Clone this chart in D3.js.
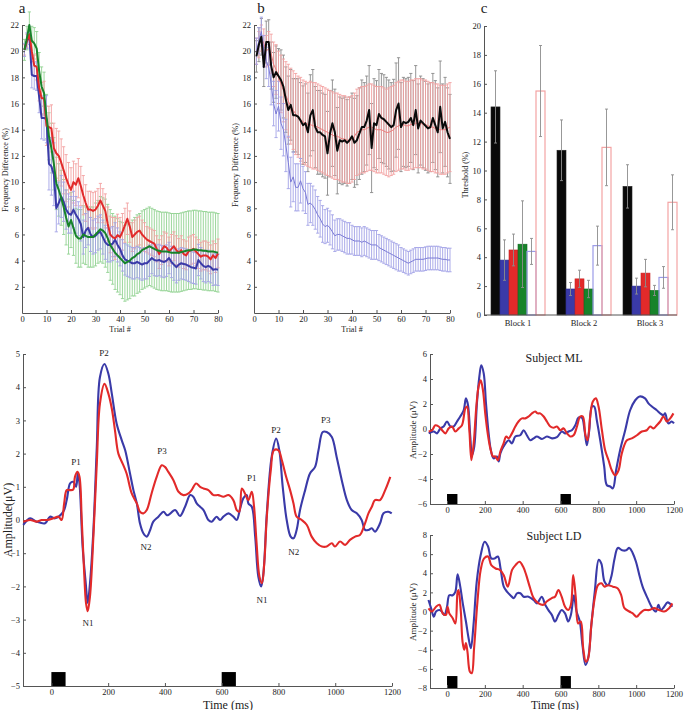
<!DOCTYPE html>
<html>
<head>
<meta charset="utf-8">
<script src="https://cdn.jsdelivr.net/npm/d3@7"></script>
<style>
    * { margin: 0; padding: 0; }
    body { background: #fff; }
    #fig text { font-family: "Liberation Serif", "DejaVu Serif", serif; fill: #222; }
    .axis path, .axis line { stroke: #555; }
    .axis text { font-size: 8.5px; font-family: "Liberation Serif", serif; }
</style>
</head>
<body>
<svg id="fig" width="685" height="710"></svg>
<script>
// ---- panel a : frequency difference per trial ----
var trials = d3.range(1, 81);
var redA = [20.1,20.8,21.3,20.0,18.9,18.8,17.2,16.4,16.4,14.3,
    14.2,14.1,12.6,12.2,12.0,11.5,10.9,10.3,9.8,9.4,
    10.0,9.8,10.3,9.7,9.0,8.4,7.9,7.9,7.8,7.9,
    8.2,8.6,8.2,7.8,6.8,6.0,5.8,5.7,5.95,5.8,
    6.2,6.7,7.2,6.6,5.8,6.0,6.2,6.3,6.0,5.8,
    5.6,5.5,5.4,5.3,4.9,4.5,4.8,5.1,5.0,4.7,
    4.9,5.1,4.8,4.6,4.8,4.5,4.4,4.7,4.8,4.9,
    4.7,4.5,4.3,4.4,4.4,4.3,4.1,4.4,4.2,4.55];
var blueA = [20.1,20.8,21.2,18.2,18.1,18.1,16.5,14.9,14.9,14.8,
    11.4,11.2,10.6,8.0,8.4,8.9,8.5,7.9,7.6,7.5,
    7.9,7.5,7.2,6.8,5.8,6.3,6.5,6.0,5.8,5.9,
    6.1,6.2,5.8,5.4,5.2,5.2,5.3,5.6,5.2,4.9,
    4.4,4.1,4.0,3.9,3.8,3.8,3.9,3.8,3.7,3.8,
    3.8,4.0,4.2,4.05,4.0,4.05,3.95,3.9,4.0,4.2,
    3.9,3.7,3.5,3.7,3.8,3.75,3.7,3.6,3.5,3.45,
    3.4,4.05,3.8,3.6,3.5,3.6,3.5,3.3,3.35,3.3];
var greenA = [20.1,21.0,22.0,20.8,20.6,20.2,18.5,17.3,16.8,15.0,
    13.5,12.6,11.4,9.9,9.4,8.8,8.1,7.3,6.6,7.1,
    6.5,5.9,5.7,5.7,6.0,5.9,5.8,5.8,5.8,6.0,
    6.2,6.4,6.3,6.1,5.7,5.2,4.9,4.6,4.4,4.2,
    4.0,3.8,3.9,4.0,4.2,4.3,4.5,4.6,4.8,4.9,
    5.0,5.1,5.0,4.9,4.8,4.75,4.7,4.7,4.7,4.65,
    4.6,4.6,4.6,4.6,4.65,4.7,4.75,4.8,4.8,4.85,
    4.85,4.8,4.8,4.75,4.75,4.7,4.7,4.7,4.65,4.6];
var errRedA = [0.4,0.5,0.5,0.8,0.8,1.0,1.0,1.2,1.3,1.5,
    1.6,1.8,1.9,1.9,1.9,1.8,1.8,1.8,1.7,1.7,
    1.6,1.6,1.5,1.5,1.5,1.4,1.4,1.4,1.4,1.4,
    1.3,1.3,1.3,1.3,1.3,1.4,1.5,1.6,1.6,1.5,
    1.4,1.3,1.2,1.2,1.1,1.1,1.1,1.1,1.1,1.1,
    1.0,1.0,1.0,1.0,1.0,1.1,1.1,1.1,1.1,1.1,
    1.1,1.1,1.1,1.1,1.1,1.1,1.1,1.1,1.1,1.1,
    1.1,1.1,1.1,1.1,1.1,1.1,1.1,1.1,1.1,1.1];
var errBlueA = [0.5,0.6,0.7,1.0,1.0,1.1,1.2,1.6,1.7,1.8,
    2.0,2.2,2.4,1.8,1.6,1.6,1.5,1.5,1.5,1.4,
    1.4,1.4,1.3,1.3,1.3,1.3,1.3,1.3,1.3,1.3,
    1.3,1.3,1.3,1.3,1.3,1.3,1.3,1.3,1.3,1.3,
    1.2,1.2,1.2,1.2,1.2,1.2,1.2,1.2,1.2,1.2,
    1.2,1.2,1.2,1.2,1.2,1.2,1.2,1.2,1.2,1.2,
    1.2,1.2,1.2,1.2,1.2,1.2,1.2,1.2,1.2,1.2,
    1.2,1.2,1.2,1.2,1.2,1.2,1.2,1.2,1.2,1.2];
var errGreenA = [0.8,0.9,1.0,1.1,1.2,1.3,1.4,1.5,1.6,1.7,
    1.8,1.9,2.0,2.0,2.0,2.1,2.1,2.1,2.1,2.1,
    2.1,2.1,2.2,2.2,2.2,2.2,2.3,2.3,2.3,2.4,
    2.4,2.5,2.5,2.6,2.6,2.7,2.7,2.8,2.8,2.8,
    2.9,2.9,2.9,2.9,2.9,3.0,3.0,3.0,3.0,3.0,
    3.0,3.0,3.0,3.0,3.0,3.0,3.0,3.0,3.0,3.0,
    3.0,3.0,3.0,3.0,3.0,3.0,3.0,3.0,3.0,3.0,
    3.0,3.0,3.0,3.0,3.0,3.0,3.0,3.0,3.0,3.0];

// ---- panel b ----
var blackB = [19.6,20.5,21.1,18.8,20.7,20.7,18.9,18.0,18.4,18.1,
    17.8,17.3,16.3,15.5,15.9,15.1,15.1,15.0,14.7,14.35,
    14.5,13.8,15.1,15.5,14.2,13.8,13.8,13.6,13.5,12.2,
    13.7,14.5,13.8,12.4,13.2,13.1,13.2,13.0,13.2,13.5,
    13.0,13.2,13.7,14.2,14.2,14.7,15.5,12.6,14.5,14.35,
    15.2,14.9,14.8,14.6,14.4,14.2,14.35,15.5,16.0,14.2,
    14.6,14.5,14.6,14.9,14.35,15.5,14.1,14.7,14.5,14.3,
    14.1,14.2,14.9,14.35,13.8,15.75,14.1,14.6,13.8,13.3];
var redB = [20.0,20.5,21.0,20.6,20.0,20.2,19.8,19.0,18.6,18.0,
    17.5,17.0,16.6,16.2,15.8,15.5,15.2,15.0,14.8,14.6,
    14.5,14.4,14.4,14.3,14.3,14.2,14.1,14.0,13.9,13.8,
    13.7,13.6,13.5,13.5,13.4,13.3,13.3,13.2,13.2,13.3,
    13.5,13.8,13.9,14.0,14.0,14.1,14.2,14.2,14.1,14.0,
    14.0,14.0,13.9,13.8,13.8,13.9,14.0,14.2,14.3,14.4,
    14.4,14.3,14.3,14.4,14.4,14.5,14.5,14.5,14.4,14.4,
    14.3,14.2,14.2,14.1,14.1,14.0,14.0,14.0,14.1,14.2];
var blueB = [20.0,20.8,21.5,20.0,19.2,18.8,17.5,16.0,15.2,15.8,
    14.5,14.0,12.8,11.5,10.0,10.4,9.6,9.6,10.1,9.5,
    9.2,8.3,8.4,8.2,7.9,7.5,7.2,6.8,6.6,6.7,
    6.5,6.2,5.9,6.0,6.0,5.9,5.8,5.7,5.7,5.6,
    5.5,5.5,5.5,5.4,5.5,5.4,5.3,5.2,5.2,5.2,
    5.0,4.9,4.8,4.7,4.6,4.5,4.4,4.3,4.2,4.1,
    4.0,3.9,3.8,3.9,4.0,4.1,4.1,4.1,4.1,4.15,
    4.2,4.2,4.2,4.2,4.2,4.15,4.1,4.1,4.05,4.05];
var errBlackB = [1.2,1.3,1.4,1.5,1.6,1.7,1.8,1.9,2.0,2.1,
    2.3,2.4,2.5,2.6,2.7,2.8,2.8,2.9,2.9,3.0,
    3.0,3.0,3.1,3.1,3.1,3.2,3.2,3.2,3.2,3.2,
    3.3,3.3,3.3,3.3,3.3,3.3,3.3,3.3,3.3,3.3,
    3.4,3.4,3.5,3.6,3.4,3.4,3.4,3.4,3.4,3.4,
    3.4,3.4,3.4,3.4,3.4,3.4,3.5,3.6,3.5,3.4,
    3.4,3.4,3.4,3.4,3.4,3.4,3.4,3.4,3.4,3.4,
    3.4,3.4,3.4,3.4,3.4,3.5,3.4,3.4,3.4,3.4];
var errRedB = [1.0,1.0,1.0,1.1,1.2,1.3,1.5,1.7,1.9,2.0,
    2.2,2.4,2.6,2.8,2.9,3.0,3.1,3.1,3.2,3.2,
    3.2,3.2,3.3,3.3,3.3,3.3,3.3,3.3,3.3,3.3,
    3.3,3.3,3.3,3.3,3.3,3.3,3.3,3.3,3.3,3.3,
    3.3,3.3,3.3,3.3,3.3,3.3,3.3,3.3,3.3,3.3,
    3.3,3.3,3.3,3.3,3.4,3.4,3.4,3.4,3.4,3.4,
    3.4,3.4,3.4,3.4,3.4,3.4,3.4,3.4,3.4,3.4,
    3.4,3.4,3.4,3.4,3.4,3.4,3.4,3.4,3.4,3.4];
var errBlueB = [1.0,1.0,1.1,1.2,1.3,1.5,1.6,1.7,1.8,1.9,
    2.0,2.0,2.0,2.0,1.9,1.9,1.8,1.8,1.7,1.7,
    1.6,1.6,1.5,1.5,1.5,1.4,1.4,1.4,1.3,1.3,
    1.3,1.3,1.2,1.2,1.2,1.2,1.2,1.2,1.2,1.1,
    1.1,1.1,1.1,1.1,1.1,1.1,1.1,1.1,1.1,1.1,
    1.0,1.0,1.0,1.0,1.0,1.0,1.0,1.0,1.0,0.9,
    0.9,0.9,0.9,0.9,0.9,0.9,0.9,0.9,0.9,0.9,
    0.9,0.9,0.9,0.9,0.9,0.9,0.9,0.9,0.9,0.9];

// ---- panel c : thresholds per block ----
var blocks = ["Block 1", "Block 2", "Block 3"];
var barNames = ["black", "blue", "red", "green", "blueOpen", "redOpen"];
var thrBlack = [14.4, 11.4, 8.9];
var thrBlue = [3.8, 1.8, 2.0];
var thrRed = [4.5, 2.5, 2.9];
var thrGreen = [4.9, 1.8, 1.7];
var thrBlueOpen = [4.4, 4.8, 2.6];
var thrRedOpen = [15.5, 11.6, 7.8];
var semBlack = [2.5, 2.1, 1.5];
var semBlue = [1.4, 0.45, 0.55];
var semRed = [1.1, 0.6, 0.95];
var semGreen = [3.0, 0.6, 0.35];
var semBlueOpen = [0.9, 1.35, 0.75];
var semRedOpen = [3.15, 2.65, 1.9];

// ---- grand average ERP (ms, uV) ----
var erpBlue = [[-99,-0.15],[-75,0.05],[-52,-0.05],[-22,-0.1],[-5,0.1],[13,0.05],[42,0.25],[54,0.6],[66,1.1],[77,1.15],
    [87,1.0],[93,1.4],[99,1.1],[110,-0.8],[121,-1.9],[128,-2.5],[136,-1.9],[148,-0.3],[160,2.2],[171,4.3],
    [187,4.7],[201,4.4],[213,3.8],[230,2.9],[248,2.4],[260,2.1],[277,1.4],[289,0.9],[301,0.5],[312,-0.1],
    [324,-0.4],[336,-0.5],[348,-0.3],[359,-0.05],[377,0.1],[395,0.25],[406,0.15],[412,0.15],[436,0.3],[453,0.12],
    [471,0.4],[489,0.75],[500,0.7],[512,0.5],[524,0.4],[536,0.3],[553,0],[565,-0.05],[582,0.1],[594,0],
    [606,0.1],[624,0.2],[641,0.1],[653,0],[665,0.35],[676,0.65],[688,0.75],[694,0.5],[706,0.4],[718,-0.5],
    [729,-1.7],[739,-2.0],[747,-1.6],[759,0.2],[776,1.9],[792,2.45],[803,2.1],[815,1.0],[829,0],[843,-0.5],
    [853,-0.55],[864,-0.3],[876,0.3],[894,0.9],[911,1.4],[929,1.6],[941,2.1],[956,2.65],[970,2.65],[988,2.5],
    [1005,1.9],[1023,1.2],[1041,0.6],[1058,0.3],[1076,0.2],[1093,0],[1105,-0.3],[1117,-0.3],[1129,-0.25],[1140,-0.35],
    [1158,-0.1],[1170,0.2],[1187,0.25],[1199,0.2]];
var erpRed = [[-99,-0.05],[-75,0],[-52,-0.05],[-34,0],[-16,0],[7,0.05],[25,0.1],[36,0],[45,0.5],[54,0.9],
    [66,0.9],[77,0.92],[83,1.3],[92,1.45],[99,1.3],[107,0],[115,-1.5],[122,-2.5],[128,-2.75],[136,-2.3],
    [148,-0.5],[160,1.7],[171,3.5],[187,4.1],[201,3.8],[213,3.35],[224,2.7],[236,2.0],[251,1.7],[265,1.4],
    [283,0.8],[301,0.5],[312,0.25],[324,0.2],[336,0.3],[353,0.8],[371,1.3],[389,1.65],[400,1.6],[412,1.45],
    [430,1.2],[448,0.85],[465,0.75],[483,0.8],[494,0.9],[510,1.1],[524,1.0],[536,0.95],[553,0.9],[571,0.75],
    [588,0.75],[606,0.7],[624,0.75],[641,0.6],[653,0.3],[662,0.25],[671,0.95],[682,0.8],[694,0.6],[706,0.85],
    [714,0.4],[723,-0.7],[733,-1.7],[742,-1.9],[750,-1.3],[759,0.1],[773,1.5],[784,2.1],[800,2.1],[812,1.8],
    [827,1.3],[841,0.9],[853,0.5],[864,0.1],[882,0],[900,-0.15],[917,-0.5],[935,-0.7],[953,-0.8],[970,-0.8],
    [988,-0.7],[999,-0.8],[1017,-0.65],[1035,-0.75],[1052,-0.6],[1070,-0.5],[1087,-0.45],[1105,-0.1],[1117,0.2],[1129,0.4],
    [1140,0.6],[1158,0.6],[1176,0.9],[1194,1.3]];
var peakLabels = [["P1",87,1.75],["P2",185,5.06],["P3",390,2.08],["N1",129,-3.1],["N2",333,-0.81],
    ["P1",706,1.27],["P2",791,2.74],["P3",967,3.04],["N1",742,-2.38],["N2",854,-0.96]];
var stimuli = [[0, 50], [600, 650]];

// ---- subject ML ----
var mlBlue = [[-97,-0.35],[-70,-0.2],[-53,-0.35],[-35,0.05],[-18,0.2],[0,0.6],[18,0.2],[35,0.2],[53,0.6],[70,1.0],
    [88,1.5],[100,2.45],[111,1.9],[123,-0.6],[132,-2.1],[144,-1.4],[158,2.05],[171,4.2],[181,5.1],[194,4.45],
    [206,2.05],[220,-0.35],[232,-1.7],[246,-2.35],[264,-2.2],[273,-2.6],[282,-1.95],[299,-1.4],[326,-0.9],[343,-1.15],
    [361,-0.6],[387,-0.5],[405,-0.1],[422,-0.5],[440,-0.9],[458,-0.75],[475,-0.6],[502,-0.8],[528,-0.6],[555,-0.75],
    [581,-0.65],[607,-0.2],[625,-0.35],[643,-0.2],[660,-0.1],[678,0.3],[695,0.9],[713,0.9],[727,-0.1],[739,-1.3],
    [752,-0.1],[766,1.8],[778,1.8],[792,0.7],[810,-0.9],[831,-3.0],[845,-4.5],[863,-4.6],[877,-4.75],[894,-3.3],
    [915,-1.7],[942,-0.1],[968,1.5],[995,2.3],[1018,2.6],[1047,2.45],[1065,2.05],[1083,1.8],[1109,1.5],[1127,1.25],
    [1144,1.1],[1153,1.25],[1170,0.45],[1188,0.6],[1200,0.45]];
var mlRed = [[-97,-0.2],[-79,-0.1],[-62,0.3],[-44,0.2],[-26,-0.1],[-9,-0.35],[9,0.05],[26,0.2],[44,-0.2],[62,0.05],
    [79,0.3],[97,1.65],[106,1.8],[118,-0.1],[129,-2.5],[141,-1.15],[155,1.8],[167,3.4],[178,3.9],[190,3.1],
    [202,1.25],[215,-0.35],[229,-1.55],[243,-2.2],[255,-2.2],[269,-2.5],[282,-1.8],[299,-1.15],[313,-0.6],[326,-0.75],
    [343,-0.35],[361,0.2],[378,0.6],[396,0.85],[414,0.85],[431,1.0],[449,1.25],[466,1.4],[479,1.25],[493,1.25],
    [511,1.0],[528,0.6],[546,0.2],[563,0.1],[581,0.2],[599,-0.1],[616,0.05],[634,-0.35],[651,-0.6],[669,-0.5],
    [687,0.2],[704,1.0],[718,1.0],[732,-0.5],[743,-0.9],[757,1.0],[771,2.2],[787,2.45],[801,1.8],[819,-0.1],
    [836,-1.7],[854,-2.5],[871,-3.3],[889,-3.7],[907,-3.3],[924,-1.95],[951,-0.9],[977,-0.75],[1004,-0.5],[1030,-0.2],
    [1056,-0.1],[1074,0.2],[1092,0.05],[1109,0.3],[1127,0.6],[1144,1.0],[1162,0.6],[1180,0.85],[1197,1.25]];

// ---- subject LD ----
var ldBlue = [[-98,1.2],[-84,0.33],[-70,-0.55],[-58,0],[-40,0.15],[-28,0],[-14,-0.35],[0,0.5],[12,1.7],[30,1.7],
    [44,2.05],[56,3.9],[70,2.6],[82,1.0],[100,-1.05],[114,-2.8],[126,-3.85],[140,-1.4],[157,3.1],[178,5.9],
    [199,7.3],[217,6.8],[234,5.55],[252,5.55],[269,5.75],[283,4.5],[300,2.6],[318,2.05],[335,1.7],[353,1.4],
    [370,1.9],[388,1.9],[405,1.55],[431,1.55],[458,1.2],[475,0.85],[501,1.55],[519,0.7],[536,0.15],[554,-0.35],
    [571,-1.05],[589,-0.35],[606,0.15],[624,-0.2],[641,-1.05],[655,-0.35],[667,1.4],[671,1.7],[685,0],[702,-1.05],
    [716,-3.5],[732,-5.6],[746,-4.9],[763,-1.4],[781,2.05],[802,5.4],[816,5.0],[833,3.1],[851,2.75],[868,3.6],
    [886,5.55],[903,6.65],[926,6.4],[947,6.4],[964,6.65],[982,6.1],[999,5.2],[1017,3.8],[1034,2.6],[1060,1.4],
    [1086,0.35],[1104,0],[1118,0.7],[1130,0.15],[1148,0.5],[1165,0.95],[1177,0.85],[1191,0.5]];
var ldRed = [[-98,0.33],[-80,0],[-58,0.5],[-40,0.7],[-23,-0.2],[-5,-0.35],[3,0.5],[12,-0.2],[30,-0.7],[44,-1.25],
    [56,2.05],[61,2.25],[73,0],[82,-3.15],[91,-4.0],[100,-3.3],[108,-4.2],[121,-6.3],[131,-6.45],[143,-3.85],
    [161,1.05],[178,4.35],[196,5.55],[217,5.75],[234,4.85],[257,4.5],[279,4.35],[300,3.8],[321,2.6],[344,4.35],
    [362,4.85],[383,5.2],[402,4.7],[419,3.8],[437,2.6],[458,1.4],[484,0.85],[510,0.7],[527,1.05],[554,1.4],
    [571,1.55],[589,2.25],[606,1.55],[624,0.5],[641,0.15],[655,0.7],[667,3.8],[681,1.4],[693,-1.25],[707,-1.05],
    [720,-3.85],[734,-5.25],[746,-4.9],[763,-1.4],[781,1.4],[798,2.75],[816,2.95],[833,2.6],[851,2.75],[877,2.6],
    [903,2.4],[921,1.7],[938,0.35],[964,0],[982,-0.2],[1003,-0.55],[1020,-0.2],[1043,0.15],[1069,0.15],[1095,0.35],
    [1121,0.15],[1148,0],[1174,0.35],[1191,0.85]];

var col = {
    red: "#e22a2a", blue: "#3a3aa8", green: "#17832a", black: "#0a0a0a",
    redErr: "#f3a2a2", blueErr: "#a3a3e6", greenErr: "#92d292", blackErr: "#8a8a8a"
};

var svg = d3.select("#fig");

// axes with MATLAB style inward ticks, left and bottom only
function drawAxes(g, x, y, xTicks, yTicks) {
    g.append("g")
        .attr("class", "axis")
        .attr("transform", "translate(0," + y.range()[0] + ")")
        .call(d3.axisBottom(x).tickValues(xTicks).tickFormat(d3.format("d"))
            .tickSizeInner(-3).tickSizeOuter(0).tickPadding(3));
    g.append("g")
        .attr("class", "axis")
        .attr("transform", "translate(" + x.range()[0] + ",0)")
        .call(d3.axisLeft(y).tickValues(yTicks).tickFormat(d3.format("d"))
            .tickSizeInner(-3).tickSizeOuter(0).tickPadding(3));
}

function errorBars(g, x, y, xs, vals, errs, color) {
    var e = g.append("g").attr("stroke", color).attr("stroke-width", 0.9);
    xs.forEach(function (t, i) {
        var lo = y(vals[i] - errs[i]), hi = y(vals[i] + errs[i]), cx = x(t);
        e.append("line").attr("x1", cx).attr("x2", cx).attr("y1", lo).attr("y2", hi);
        e.append("line").attr("x1", cx - 1.6).attr("x2", cx + 1.6).attr("y1", lo).attr("y2", lo);
        e.append("line").attr("x1", cx - 1.6).attr("x2", cx + 1.6).attr("y1", hi).attr("y2", hi);
    });
}

function trialLine(g, x, y, vals, color, w) {
    g.append("path")
        .datum(vals)
        .attr("fill", "none")
        .attr("stroke", color)
        .attr("stroke-width", w)
        .attr("stroke-linejoin", "round")
        .attr("d", d3.line().x(function (d, i) { return x(trials[i]); }).y(function (d) { return y(d); }));
}

function erpLine(g, x, y, pts, color) {
    g.append("path")
        .datum(pts)
        .attr("fill", "none")
        .attr("stroke", color)
        .attr("stroke-width", 2.1)
        .attr("stroke-linejoin", "round")
        .attr("d", d3.line().curve(d3.curveCatmullRom.alpha(0.5))
            .x(function (d) { return x(d[0]); }).y(function (d) { return y(d[1]); }));
}

function yLabel(g, x, y, txt, size) {
    g.append("text")
        .attr("transform", "translate(" + x + "," + y + ") rotate(-90)")
        .attr("text-anchor", "middle")
        .style("font-size", size + "px")
        .text(txt);
}

function plainText(g, x, y, txt, size, anchor) {
    g.append("text")
        .attr("x", x).attr("y", y)
        .attr("text-anchor", anchor || "middle")
        .style("font-size", size + "px")
        .text(txt);
}

var trialTicks = [0, 10, 20, 30, 40, 50, 60, 70, 80];
var freqTicks = [2, 4, 6, 8, 10, 12, 14, 16, 18, 20, 22];

// panel a
var gA = svg.append("g");
var xA = d3.scaleLinear().domain([0, 80]).range([22, 218]);
var yA = d3.scaleLinear().domain([0, 22]).range([313, 25]);
errorBars(gA, xA, yA, trials, greenA, errGreenA, col.greenErr);
errorBars(gA, xA, yA, trials, redA, errRedA, col.redErr);
errorBars(gA, xA, yA, trials, blueA, errBlueA, col.blueErr);
drawAxes(gA, xA, yA, trialTicks, freqTicks);
trialLine(gA, xA, yA, blueA, col.blue, 2);
trialLine(gA, xA, yA, redA, col.red, 2);
trialLine(gA, xA, yA, greenA, col.green, 2);
yLabel(gA, 8, 170, "Frequency Difference (%)", 8);
plainText(gA, 120, 332, "Trial #", 8);
plainText(gA, 22, 13, "a", 15, "middle");

// panel b
var gB = svg.append("g");
var xB = d3.scaleLinear().domain([0, 80]).range([254, 450]);
var yB = d3.scaleLinear().domain([0, 22]).range([313, 25]);
errorBars(gB, xB, yB, trials, blackB, errBlackB, col.blackErr);
errorBars(gB, xB, yB, trials, redB, errRedB, col.redErr);
errorBars(gB, xB, yB, trials, blueB, errBlueB, col.blueErr);
drawAxes(gB, xB, yB, trialTicks, freqTicks);
trialLine(gB, xB, yB, redB, "#ee7d7d", 1);
trialLine(gB, xB, yB, blueB, "#7b7bd6", 1);
trialLine(gB, xB, yB, blackB, col.black, 2);
yLabel(gB, 238, 165, "Frequency Difference (%)", 8);
plainText(gB, 352, 332, "Trial #", 8);
plainText(gB, 261, 13, "b", 15, "middle");

// panel c
var gC = svg.append("g");
var thr = {black: thrBlack, blue: thrBlue, red: thrRed, green: thrGreen, blueOpen: thrBlueOpen, redOpen: thrRedOpen};
var sem = {black: semBlack, blue: semBlue, red: semRed, green: semGreen, blueOpen: semBlueOpen, redOpen: semRedOpen};
var fills = {black: col.black, blue: col.blue, red: col.red, green: col.green, blueOpen: "none", redOpen: "none"};
var strokes = {black: "#222", blue: "#2c2c90", red: "#c82222", green: "#0f6a1f", blueOpen: "#9b9be8", redOpen: "#f3a3a3"};
var xC = d3.scaleBand().domain(blocks).range([491, 677]).paddingInner(12 / 66).paddingOuter(0);
var xInner = d3.scaleBand().domain(barNames).range([0, xC.bandwidth()]);
var yC = d3.scaleLinear().domain([0, 20]).range([315, 26]);

blocks.forEach(function (b, bi) {
    var grp = gC.append("g").attr("transform", "translate(" + xC(b) + ",0)");
    barNames.forEach(function (n) {
        grp.append("rect")
            .attr("x", xInner(n))
            .attr("y", yC(thr[n][bi]))
            .attr("width", xInner.bandwidth())
            .attr("height", yC(0) - yC(thr[n][bi]))
            .attr("fill", fills[n])
            .attr("stroke", strokes[n])
            .attr("stroke-width", n.indexOf("Open") > 0 ? 1.2 : 0.6);
    });
    barNames.forEach(function (n) {
        var cx = xInner(n) + xInner.bandwidth() / 2;
        var lo = yC(thr[n][bi] - sem[n][bi]), hi = yC(thr[n][bi] + sem[n][bi]);
        var e = grp.append("g").attr("stroke", "#8c8c8c").attr("stroke-width", 0.9);
        e.append("line").attr("x1", cx).attr("x2", cx).attr("y1", lo).attr("y2", hi);
        e.append("line").attr("x1", cx - 1.5).attr("x2", cx + 1.5).attr("y1", lo).attr("y2", lo);
        e.append("line").attr("x1", cx - 1.5).attr("x2", cx + 1.5).attr("y1", hi).attr("y2", hi);
    });
});
gC.append("line").attr("x1", 484).attr("x2", 677).attr("y1", yC(0)).attr("y2", yC(0)).attr("stroke", "#555");
gC.append("g")
    .attr("class", "axis")
    .attr("transform", "translate(484,0)")
    .call(d3.axisLeft(yC).tickValues(d3.range(0, 21, 2)).tickSizeInner(-3).tickSizeOuter(0).tickPadding(3));
blocks.forEach(function (b) {
    plainText(gC, xC(b) + xC.bandwidth() / 2, 326, b, 8.5);
});
yLabel(gC, 468, 175, "Threshold (%)", 8);
plainText(gC, 484, 13, "c", 15, "middle");

// grand average ERP
var gE = svg.append("g");
var xE = d3.scaleLinear().domain([-100, 1200]).range([23, 392]);
var yE = d3.scaleLinear().domain([-5, 5]).range([686, 354]);
stimuli.forEach(function (s) {
    gE.append("rect").attr("x", xE(s[0])).attr("width", xE(s[1]) - xE(s[0]))
        .attr("y", yE(-4.58)).attr("height", yE(-5) - yE(-4.58)).attr("fill", "#000");
});
drawAxes(gE, xE, yE, d3.range(0, 1201, 200), d3.range(-5, 6, 1));
erpLine(gE, xE, yE, erpBlue, col.blue);
erpLine(gE, xE, yE, erpRed, col.red);
peakLabels.forEach(function (p) {
    plainText(gE, xE(p[1]), yE(p[2]) + 3.5, p[0], 9);
});
yLabel(gE, 12, 520, "Amplitude(\u03bcV)", 12);
plainText(gE, 228, 708.5, "Time (ms)", 12);

// subject ML
var gM = svg.append("g");
var xS = d3.scaleLinear().domain([-90, 1200]).range([430, 674]);
var yM = d3.scaleLinear().domain([-6, 6]).range([504, 354]);
stimuli.forEach(function (s) {
    gM.append("rect").attr("x", xS(s[0])).attr("width", xS(s[1] + 5) - xS(s[0]))
        .attr("y", yM(-5.2)).attr("height", yM(-6) - yM(-5.2)).attr("fill", "#000");
});
drawAxes(gM, xS, yM, d3.range(0, 1201, 200), d3.range(-6, 7, 2));
erpLine(gM, xS, yM, mlBlue, col.blue);
erpLine(gM, xS, yM, mlRed, col.red);
plainText(gM, 554, 362, "Subject ML", 12);
yLabel(gM, 416, 430, "Amplitude (\u03bcV)", 9);

// subject LD
var gL = svg.append("g");
var yL = d3.scaleLinear().domain([-8, 8]).range([688, 535]);
stimuli.forEach(function (s) {
    gL.append("rect").attr("x", xS(s[0])).attr("width", xS(s[1] + 5) - xS(s[0]))
        .attr("y", yL(-6.75)).attr("height", yL(-8) - yL(-6.75)).attr("fill", "#000");
});
drawAxes(gL, xS, yL, d3.range(0, 1201, 200), d3.range(-8, 9, 2));
erpLine(gL, xS, yL, ldBlue, col.blue);
erpLine(gL, xS, yL, ldRed, col.red);
plainText(gL, 554, 540, "Subject LD", 12);
yLabel(gL, 416, 612, "Amplitude (\u03bcV)", 9);
plainText(gL, 555, 708.5, "Time (ms)", 11.5);
</script>
</body>
</html>
